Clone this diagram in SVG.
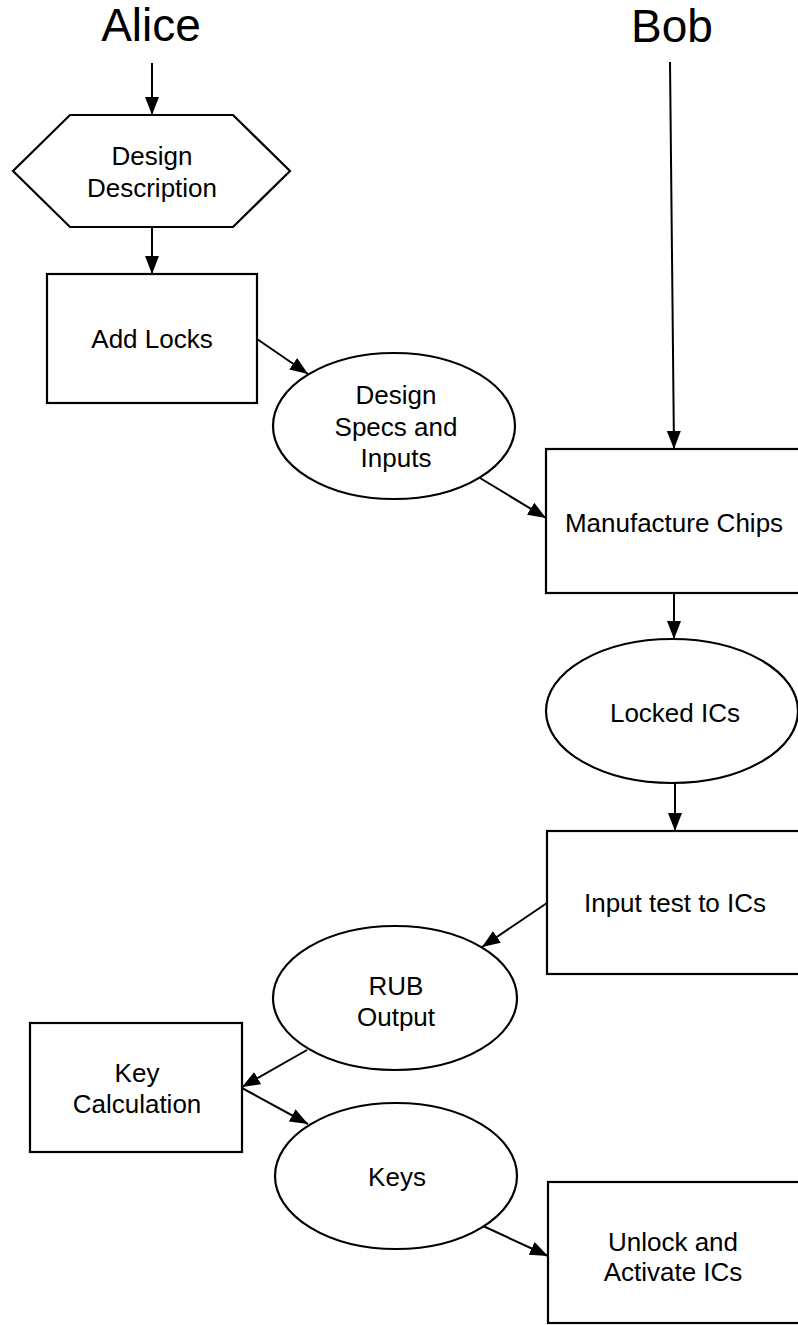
<svg xmlns="http://www.w3.org/2000/svg" width="798" height="1325" viewBox="0 0 798 1325">
<style>
.s{fill:#fff;stroke:#000;stroke-width:2.2}
.t{font-family:"Liberation Sans",Arial,sans-serif;font-size:26px;fill:#000;text-anchor:middle}
.h{font-family:"Liberation Sans",Arial,sans-serif;font-size:46px;fill:#000;text-anchor:middle}
.c{stroke:#000;stroke-width:2;fill:none;marker-end:url(#a)}
</style>
<defs>
<marker id="a" markerUnits="userSpaceOnUse" markerWidth="19" markerHeight="15" refX="18" refY="7" orient="auto">
<path d="M0,0 L18,7 L0,14 z" fill="#000"/>
</marker>
</defs>
<rect width="798" height="1325" fill="#fff"/>
<g id="alice"><text class="h" x="151" y="41">Alice</text></g>
<g id="bob"><text class="h" x="672" y="42">Bob</text></g>
<g id="design-description">
<polygon class="s" points="13,171 70,115 233,115 290,171 233,227 70,227"/>
<text class="t" x="152" y="165">Design</text>
<text class="t" x="152" y="197">Description</text>
</g>
<g id="add-locks">
<rect class="s" x="47" y="274" width="210" height="129"/>
<text class="t" x="152" y="348">Add Locks</text>
</g>
<g id="design-specs">
<ellipse class="s" cx="394" cy="426" rx="121" ry="73"/>
<text class="t" x="396" y="404">Design</text>
<text class="t" x="396" y="436">Specs and</text>
<text class="t" x="396" y="467">Inputs</text>
</g>
<g id="manufacture">
<rect class="s" x="546" y="449" width="270" height="144"/>
<text class="t" x="674" y="532">Manufacture Chips</text>
</g>
<g id="locked-ics">
<ellipse class="s" cx="672" cy="711" rx="126" ry="72"/>
<text class="t" x="675" y="722">Locked ICs</text>
</g>
<g id="input-test">
<rect class="s" x="547" y="831" width="270" height="143"/>
<text class="t" x="675" y="912">Input test to ICs</text>
</g>
<g id="rub-output">
<ellipse class="s" cx="395" cy="998" rx="122" ry="72"/>
<text class="t" x="396" y="995">RUB</text>
<text class="t" x="396" y="1026">Output</text>
</g>
<g id="key-calculation">
<rect class="s" x="30" y="1023" width="212" height="129"/>
<text class="t" x="137" y="1082">Key</text>
<text class="t" x="137" y="1113">Calculation</text>
</g>
<g id="keys">
<ellipse class="s" cx="396" cy="1176" rx="121" ry="73"/>
<text class="t" x="397" y="1186">Keys</text>
</g>
<g id="unlock">
<rect class="s" x="548" y="1182" width="270" height="141"/>
<text class="t" x="673" y="1251">Unlock and</text>
<text class="t" x="673" y="1281">Activate ICs</text>
</g>
<g id="connectors">
<line class="c" x1="152" y1="63" x2="152" y2="115"/>
<line class="c" x1="670" y1="62" x2="674" y2="449"/>
<line class="c" x1="152" y1="227" x2="152" y2="274"/>
<line class="c" x1="257" y1="339" x2="308" y2="374"/>
<line class="c" x1="480" y1="478" x2="546" y2="518"/>
<line class="c" x1="674" y1="593" x2="674" y2="639"/>
<line class="c" x1="675" y1="783" x2="675" y2="831"/>
<line class="c" x1="547" y1="903" x2="482" y2="947"/>
<line class="c" x1="307" y1="1050" x2="242" y2="1087"/>
<line class="c" x1="242" y1="1088" x2="308" y2="1124"/>
<line class="c" x1="483" y1="1226" x2="548" y2="1256"/>
</g>
</svg>
